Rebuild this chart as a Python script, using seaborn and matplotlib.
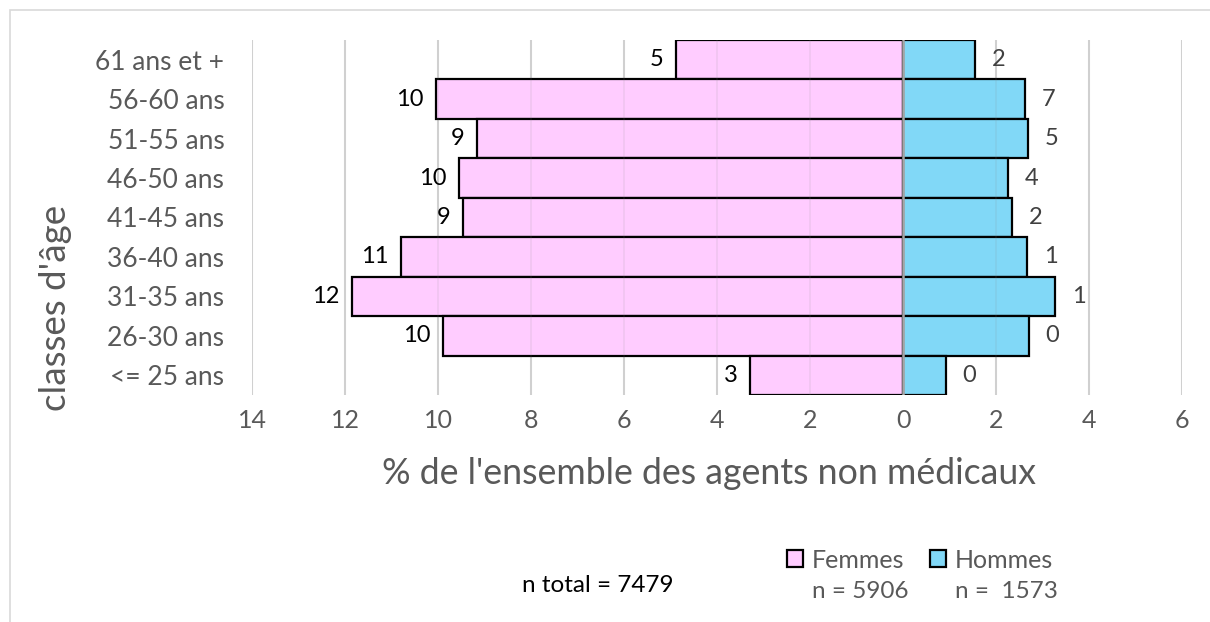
import matplotlib
matplotlib.use("Agg")
import matplotlib.pyplot as plt
import numpy as np
import pandas as pd
import seaborn as sns
from matplotlib.patches import Rectangle

CLASSES = ["61 ans et +", "56-60 ans", "51-55 ans", "46-50 ans", "41-45 ans",
           "36-40 ans", "31-35 ans", "26-30 ans", "<= 25 ans"]
FEMMES = [4.88, 10.04, 9.16, 9.55, 9.46, 10.80, 11.85, 9.89, 3.29]
HOMMES = [1.55, 2.62, 2.69, 2.26, 2.34, 2.67, 3.27, 2.71, 0.92]
LABELS_FEMMES = ["5", "10", "9", "10", "9", "11", "12", "10", "3"]
LABELS_HOMMES = ["2", "7", "5", "4", "2", "1", "1", "0", "0"]
X_TICKS = [-14, -12, -10, -8, -6, -4, -2, 0, 2, 4, 6]

PINK = "#FFCCFF"
BLUE = "#81D8F7"
FONT = ["Lato", "DejaVu Sans"]


def main():
    sns.set_style("white")
    plt.rcParams["font.family"] = FONT

    df = pd.DataFrame({
        "classe": CLASSES,
        "femmes": [-v for v in FEMMES],
        "hommes": HOMMES,
    })

    fig = plt.figure(figsize=(12.1, 6.22), dpi=100)
    ax = fig.add_axes([0.2083, 0.365, 0.7686, 0.5707])

    sns.barplot(data=df, x="femmes", y="classe", order=CLASSES, orient="h",
                color=PINK, edgecolor="black", linewidth=1.6, width=1.0,
                saturation=1, label="Femmes", ax=ax, zorder=2)
    sns.barplot(data=df, x="hommes", y="classe", order=CLASSES, orient="h",
                color=BLUE, edgecolor="black", linewidth=1.6, width=1.0,
                saturation=1, label="Hommes", ax=ax, zorder=2)

    ax.set_xlim(-14, 6)
    ax.set_ylim(len(CLASSES) - 0.5, -0.5)
    ax.set_xticks(X_TICKS)
    ax.set_xticklabels([str(abs(t)) for t in X_TICKS])
    ax.tick_params(axis="both", length=0, labelcolor="#595959")
    ax.tick_params(axis="x", pad=10, labelsize=18)
    ax.tick_params(axis="y", pad=20, labelsize=19)
    for s in ax.spines.values():
        s.set_visible(False)
    ax.grid(False)
    for t in X_TICKS:
        if t != 0:
            ax.axvline(t, color="#d9d9d9", lw=1.5, zorder=1)
            ax.axvline(t, color="#888888", lw=1.2, alpha=0.12, zorder=3)
    ax.axvline(0, color="#a6a6a6", lw=1.8, zorder=4)

    for i, (f, h) in enumerate(zip(FEMMES, HOMMES)):
        ax.annotate(LABELS_FEMMES[i], (-f, i), xytext=(-9, 0),
                    textcoords="offset points", ha="right", va="center",
                    fontsize=17, color="black")
        ax.annotate(LABELS_HOMMES[i], (h, i), xytext=(12, 0),
                    textcoords="offset points", ha="left", va="center",
                    fontsize=17, color="#404040")

    ax.set_xlabel("% de l'ensemble des agents non médicaux", fontsize=25.7,
                  color="#595959")
    ax.xaxis.set_label_coords(0.491, -0.175)
    ax.set_ylabel("classes d'âge", fontsize=26.5, color="#595959")
    ax.yaxis.set_label_coords(-0.194, 0.245)

    ax.legend(ncol=2, frameon=False, loc="center left",
              bbox_to_anchor=(787 / 1210, 1 - 560 / 622),
              bbox_transform=fig.transFigure, fontsize=18,
              borderpad=0, borderaxespad=0,
              handlelength=0.64, handleheight=0.64, handletextpad=0.36,
              columnspacing=1.0, labelcolor="#595959")

    fig.text(812 / 1210, 1 - 592 / 622, "n = 5906", ha="left", va="center",
             fontsize=17.5, color="#595959")
    fig.text(955 / 1210, 1 - 592 / 622, "n =  1573", ha="left", va="center",
             fontsize=17.5, color="#595959")
    fig.text(673 / 1210, 1 - 586 / 622, "n total = 7479", ha="right",
             va="center", fontsize=17.5, color="black")

    fig.patches.append(Rectangle((10 / 1210, -0.1), 1.2, 0.1 + 612 / 622,
                                 transform=fig.transFigure, fill=False,
                                 edgecolor="#d9d9d9", lw=1.2))

    fig.savefig("out.png", dpi=100)


if __name__ == "__main__":
    main()
